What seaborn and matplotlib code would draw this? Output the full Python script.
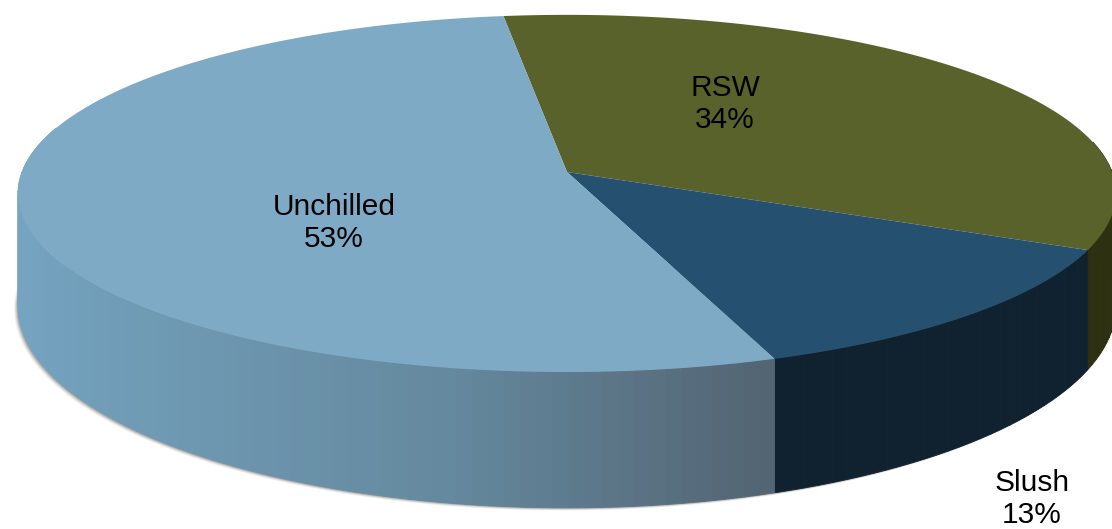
import numpy as np
import matplotlib
matplotlib.use("Agg")
import matplotlib.pyplot as plt
import seaborn as sns

categories = ["RSW", "Slush", "Unchilled"]
shares = [34.0, 12.6, 53.4]

top_colors = ["#5a622c", "#25506f", "#7faac6"]
wall_ramps = [
    ["#2e3012", "#2e3012"],
    ["#10222f", "#10222f"],
    ["#536472", "#658aa0", "#6f9ab4", "#75a4c1", "#78a6c3"],
]
label_xy = [(725, 104), (1032, 499), (334, 223)]

W, H = 1112, 529
CX, CY, A, B, K = 567, 172, 545, 176, 0.12
START = -7.5

sns.set_theme(style="white")
plt.rcParams["font.family"] = ["Liberation Sans", "DejaVu Sans"]
fig, ax = plt.subplots(figsize=(W / 100, H / 100), dpi=100)
ax.set_position([0, 0, 1, 1])
ax.set_xlim(0, W)
ax.set_ylim(H, 0)
ax.axis("off")


def project(theta_deg):
    t = np.radians(theta_deg)
    u, v = np.sin(t), -np.cos(t)
    s = 1 / (1 - K * v)
    return CX + A * u * s, CY + B * v * s, s


def drop(s):
    return 110 * s ** 1.65


edges = START + np.concatenate([[0], np.cumsum(shares)]) * 3.6

# soft shadow below the rim of the disc
sweep = np.linspace(85, 275, 300)
for grow, alpha in zip([4.5, 3.5, 2.5, 1.5], [0.07, 0.12, 0.18, 0.28]):
    x, y, s = project(sweep)
    ax.fill(x - grow * 0.9, y + drop(s) + grow * 0.6, color="#6b625c",
            alpha=alpha, lw=0, zorder=1)

# side wall: drawn back to front so the nearer strips stay on top
for i in range(len(shares)):
    lo_vis, hi_vis = max(edges[i], 80), min(edges[i + 1], 285)
    if hi_vis <= lo_vis:
        continue
    n = int(max(2, (hi_vis - lo_vis) / 1.5))
    steps = np.linspace(lo_vis, hi_vis, n + 1)
    palette = sns.blend_palette(wall_ramps[i], n)
    for j in reversed(range(n)):
        ang = np.linspace(steps[j], steps[j + 1], 4)
        x, y, s = project(ang)
        yb = y + drop(s)
        ax.fill(np.r_[x, x[::-1]], np.r_[y, yb[::-1]], color=palette[j],
                ec=palette[j], lw=0.6, zorder=2)

# top face
for i in range(len(shares)):
    ang = np.linspace(edges[i], edges[i + 1], 300)
    x, y, _ = project(ang)
    ax.fill(np.r_[CX, x], np.r_[CY, y], color=top_colors[i], lw=0, zorder=3)

for cat, val, (lx, ly) in zip(categories, shares, label_xy):
    ax.text(lx, ly, f"{cat}\n{val:.0f}%", ha="center", va="center",
            fontsize=21.5, color="black", linespacing=1.15, zorder=5,
            clip_on=False)

fig.savefig("out.png", dpi=100, facecolor="white")
